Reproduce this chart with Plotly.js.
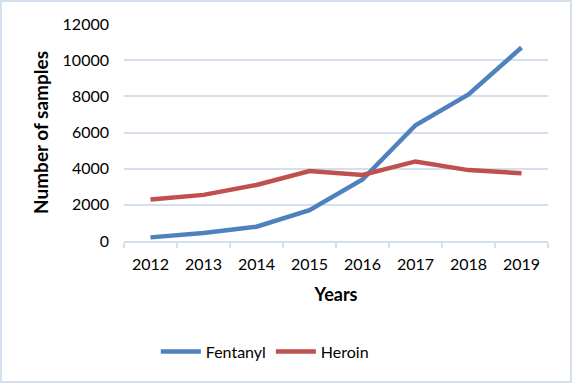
<!DOCTYPE html>
<html>
<head>
<meta charset="utf-8">
<script src="https://cdn.plot.ly/plotly-3.0.1.min.js"></script>
<style>
html,body{margin:0;padding:0;background:#fff;}
#wrap{position:relative;width:572px;height:383px;}
#chart{width:572px;height:383px;}
#frame{position:absolute;left:0;top:0;width:572px;height:383px;box-sizing:border-box;border:2px solid #D5E0EF;pointer-events:none;}
</style>
</head>
<body>
<div id="wrap"><div id="chart"></div><div id="frame"></div></div>
<script>
const years = ['2012','2013','2014','2015','2016','2017','2018','2019'];
const fentanyl = [200, 440, 790, 1700, 3400, 6400, 8100, 10700];
const heroin = [2300, 2550, 3100, 3870, 3650, 4400, 3920, 3750];
const yTicks = [0, 2000, 4000, 6000, 8000, 10000, 12000];

const font = 'Lato, "Open Sans", sans-serif';
const traces = [
  {x: years, y: fentanyl, name: 'Fentanyl', type: 'scatter', mode: 'lines',
   line: {color: '#4F81BD', width: 4.5}},
  {x: years, y: heroin, name: 'Heroin', type: 'scatter', mode: 'lines',
   line: {color: '#C0504D', width: 4.5}}
];
const layout = {
  width: 572, height: 383,
  margin: {l: 124, r: 24, t: 24, b: 142},
  paper_bgcolor: '#fff', plot_bgcolor: '#fff',
  font: {family: font, size: 16, color: '#000'},
  showlegend: true,
  xaxis: {
    type: 'category', range: [-0.5, 7.5], showgrid: false, showline: true, linecolor: '#D5E0EF', linewidth: 2,
    ticks: 'outside', ticklen: 5, tickcolor: '#D5E0EF', tickwidth: 2, tickson: 'boundaries',
    ticklabelstandoff: 8, tickfont: {size: 16}, fixedrange: true,
    title: {text: '<b>Years</b>', font: {size: 18}, standoff: 16}
  },
  yaxis: {
    range: [0, 12000], tickvals: yTicks, ticktext: yTicks.map(String),
    showgrid: true, gridcolor: '#D5E0EF', gridwidth: 2, zeroline: false, showline: false,
    ticks: '', ticklabelstandoff: 14, tickfont: {size: 16}, fixedrange: true,
    title: {text: '<b>Number of samples</b>', font: {size: 19}, standoff: 8}
  },
  legend: {orientation: 'h', x: 0.075, xanchor: 'left', y: -0.51, yanchor: 'middle',
    font: {size: 16}, itemwidth: 40, bgcolor: 'rgba(0,0,0,0)'}
};
Plotly.newPlot('chart', traces, layout, {displayModeBar: false, staticPlot: true});
</script>
</body>
</html>
